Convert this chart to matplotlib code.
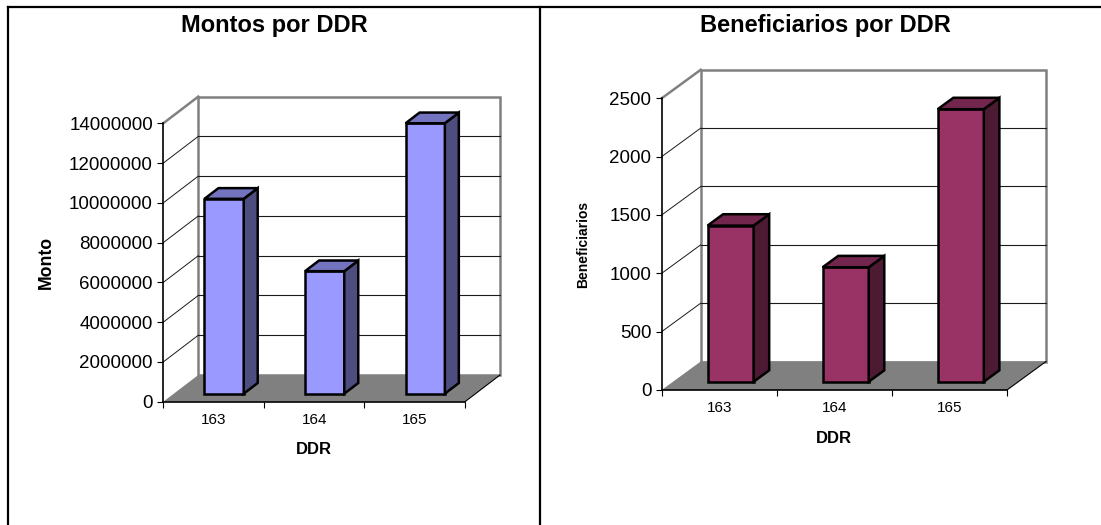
import matplotlib
matplotlib.use("Agg")
import matplotlib.pyplot as plt
from matplotlib.patches import Polygon
from matplotlib.lines import Line2D
from matplotlib.ticker import FuncFormatter

plt.rcParams['font.family'] = ['Liberation Sans', 'DejaVu Sans']

# datos por DDR
ddr = ['163', '164', '165']
montos = [9800000, 6160000, 13600000]
beneficiarios = [1338, 981, 2336]

montos_ticks = [0, 2000000, 4000000, 6000000, 8000000, 10000000, 12000000, 14000000]
benef_ticks = [0, 500, 1000, 1500, 2000, 2500]

W, H = 1101, 525
fig = plt.figure(figsize=(W / 100, H / 100), dpi=100)


def px_axes(left, top, right, bottom):
    ax = fig.add_axes([left / W, 1 - bottom / H, (right - left) / W, (bottom - top) / H])
    ax.patch.set_visible(False)
    return ax, right - left, bottom - top


def seg(ax, p, q, **kw):
    ax.add_line(Line2D([p[0], q[0]], [p[1], q[1]], clip_on=False, **kw))


def bar_chart_3d(box, depth_px, values, ticks, colors, bar_w=0.39, f0=0.3, f1=0.7):
    ax, w_px, h_px = px_axes(*box)
    n = len(values)
    ymax = ticks[-1]
    ax.set_xlim(0, n)
    ax.set_ylim(0, ymax)

    # desplazamiento oblicuo de la profundidad, en unidades de datos
    DX = depth_px[0] / w_px * n
    DY = depth_px[1] / h_px * ymax

    def off(x, y, f):
        return (x + f * DX, y + f * DY)

    # pared del fondo
    ax.add_patch(Polygon([off(0, 0, 1), off(n, 0, 1), off(n, ymax, 1), off(0, ymax, 1)],
                         closed=True, fc='white', ec='#808080', lw=1.8,
                         clip_on=False, zorder=1))
    for t in ticks[1:-1]:
        seg(ax, off(0, t, 1), off(n, t, 1), color='#1a1a1a', lw=0.8, zorder=1.2)
        seg(ax, (0, t), off(0, t, 1), color='#1a1a1a', lw=0.7, zorder=1.2)
    seg(ax, (0, ymax), off(0, ymax, 1), color='#808080', lw=1.8, zorder=1.2)

    # piso
    ax.add_patch(Polygon([off(0, 0, 0), off(n, 0, 0), off(n, 0, 1), off(0, 0, 1)],
                         closed=True, fc='#808080', ec='none', clip_on=False, zorder=1.1))
    seg(ax, (n, 0), off(n, 0, 1), color='black', lw=0.8, zorder=1.2)

    front_c, side_c, top_c = colors
    for i, v in enumerate(values):
        x0 = i + 0.5 - bar_w / 2
        x1 = i + 0.5 + bar_w / 2
        faces = [
            ([off(x0, 0, f0), off(x1, 0, f0), off(x1, v, f0), off(x0, v, f0)], front_c),
            ([off(x1, 0, f0), off(x1, 0, f1), off(x1, v, f1), off(x1, v, f0)], side_c),
            ([off(x0, v, f0), off(x1, v, f0), off(x1, v, f1), off(x0, v, f1)], top_c),
        ]
        for pts, c in faces:
            ax.add_patch(Polygon(pts, closed=True, fc=c, ec='black', lw=1.8,
                                 joinstyle='miter', clip_on=False, zorder=3))

    for s in ('top', 'right'):
        ax.spines[s].set_visible(False)
    for s in ('left', 'bottom'):
        ax.spines[s].set_color('black')
        ax.spines[s].set_linewidth(1.2)

    ax.set_yticks(ticks)
    ax.yaxis.set_major_formatter(FuncFormatter(lambda v, p: f"{v:.0f}"))
    ax.tick_params(axis='y', direction='out', length=4, width=0.8, pad=3.5,
                   labelsize=13.5, colors='black')
    ax.set_xticks(range(n + 1))
    ax.set_xticklabels([])
    ax.set_xticks([i + 0.5 for i in range(n)], minor=True)
    ax.set_xticklabels(ddr, minor=True)
    ax.tick_params(axis='x', which='major', direction='out', length=4, width=0.8)
    ax.tick_params(axis='x', which='minor', length=0, pad=8, labelsize=11)
    return ax, w_px, h_px


# Montos por DDR
ax1, w1, h1 = bar_chart_3d((163.3, 123.3, 465.0, 401.7), (35, 26.7), montos, montos_ticks,
                           ('#9999FF', '#4D4D80', '#7373BF'))
fig.text(274 / W, 1 - 31.7 / H, 'Montos por DDR', ha='center', va='baseline',
         fontsize=17, fontweight='bold')
ax1.text((46 - 163.3) / w1, 0.5, 'Monto', rotation=90, transform=ax1.transAxes,
         ha='center', va='center', fontsize=12.7, fontweight='bold')
ax1.text(0.5, -(449.3 - 401.7) / h1, 'DDR', transform=ax1.transAxes,
         ha='center', va='center', fontsize=12, fontweight='bold')

# Beneficiarios por DDR
ax2, w2, h2 = bar_chart_3d((661.7, 98.3, 1007.0, 390.0), (39, 28.5), beneficiarios, benef_ticks,
                           ('#993366', '#4D1A33', '#73264D'), bar_w=0.40, f0=0.29, f1=0.69)
fig.text(825.5 / W, 1 - 31.7 / H, 'Beneficiarios por DDR', ha='center', va='baseline',
         fontsize=17, fontweight='bold')
ax2.text((583.3 - 661.7) / w2, 0.5, 'Beneficiarios', rotation=90, transform=ax2.transAxes,
         ha='center', va='center', fontsize=10, fontweight='bold')
ax2.text(0.5, -(438.3 - 390) / h2, 'DDR', transform=ax2.transAxes,
         ha='center', va='center', fontsize=12, fontweight='bold')

# marcos de los paneles
top_y = 1 - 7.3 / H
fig.add_artist(Line2D([8.3 / W, 8.3 / W], [0, top_y], color='black', lw=1.6,
                      transform=fig.transFigure))
fig.add_artist(Line2D([8.3 / W, 1], [top_y, top_y], color='black', lw=1.6,
                      transform=fig.transFigure))
fig.add_artist(Line2D([540 / W, 540 / W], [0, top_y], color='black', lw=1.6,
                      transform=fig.transFigure))

fig.savefig('out.png', dpi=100)
